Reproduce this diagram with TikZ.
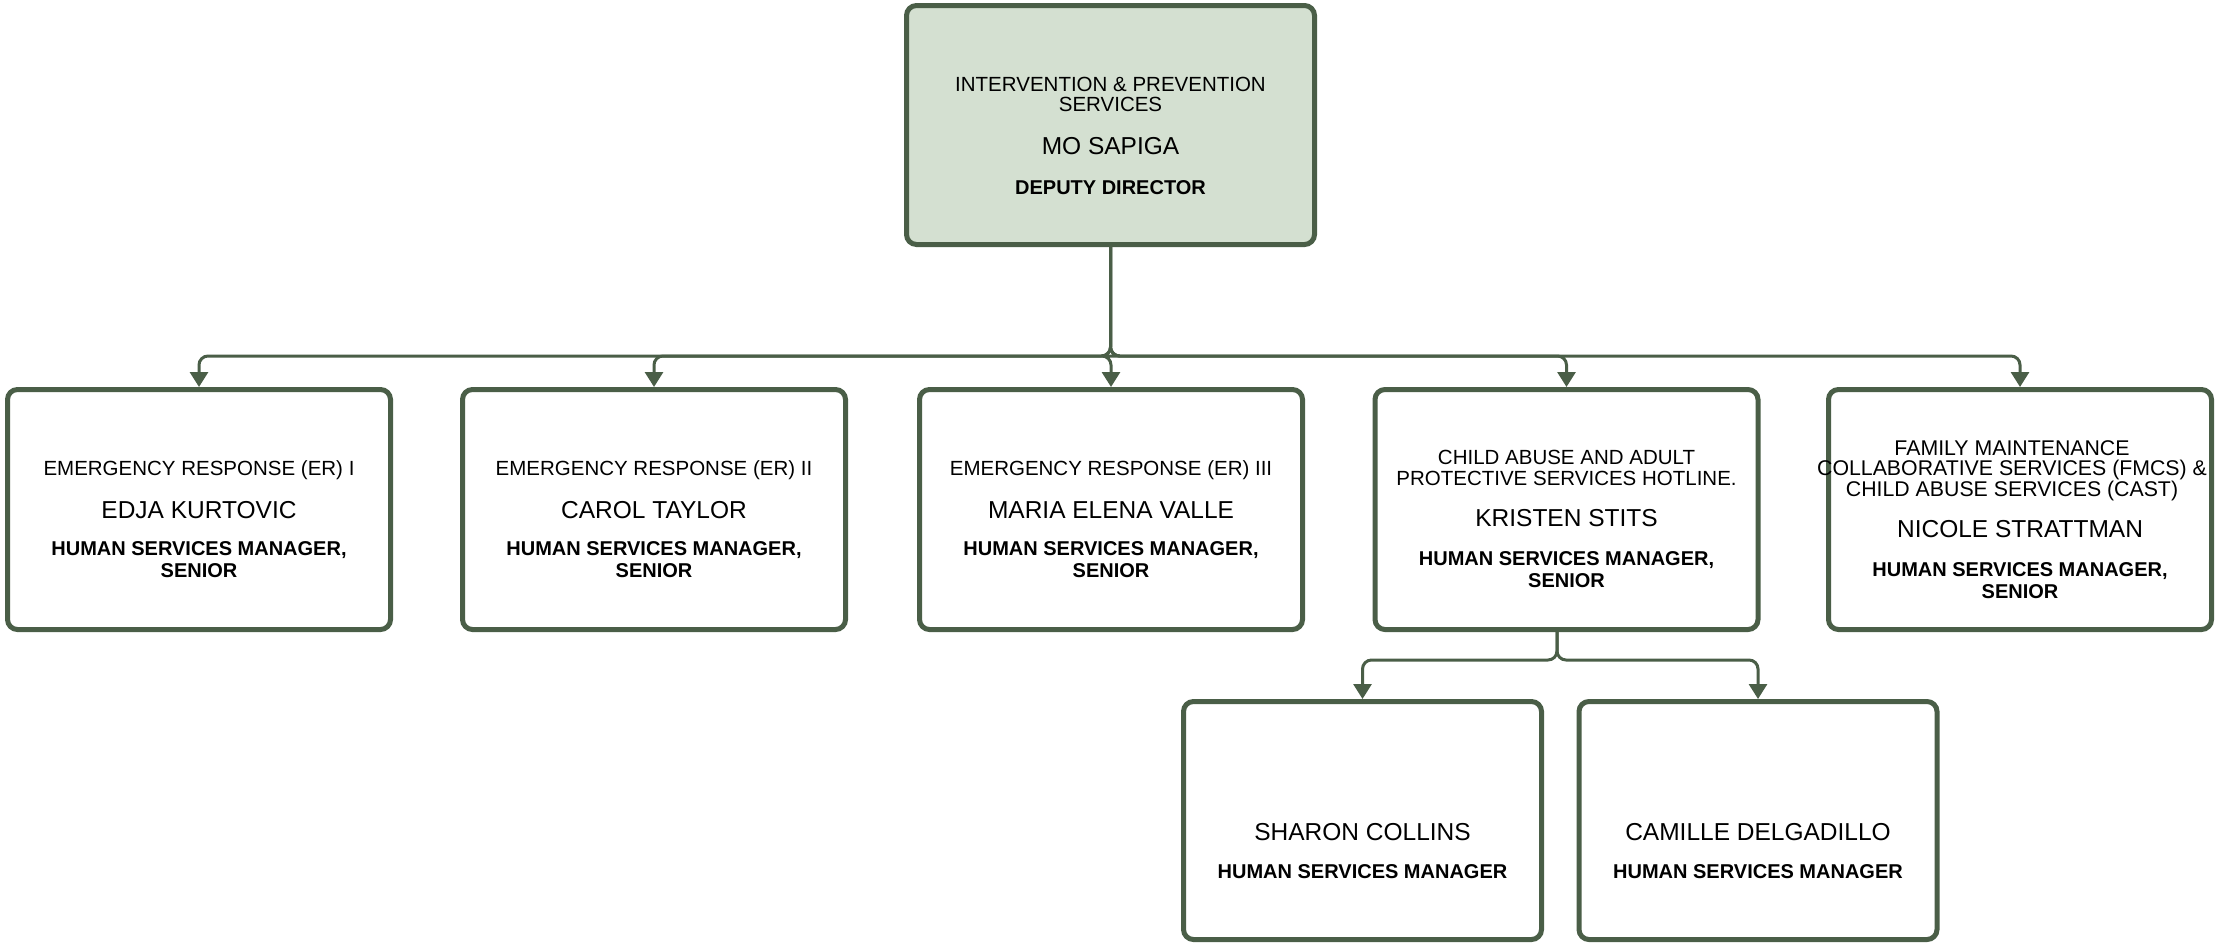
\documentclass[tikz,border=0pt]{standalone}
\usepackage{fontspec}
\setmainfont{Liberation Sans}
\usetikzlibrary{arrows.meta}
\definecolor{edgec}{HTML}{4A5E47}
\definecolor{topfill}{HTML}{D4E0D1}
\tikzset{
  box/.style={draw=edgec, line width=5pt, rounded corners=10pt, fill=white,
    minimum width=383pt, minimum height=240pt, inner sep=0pt},
  conn/.style={draw=edgec, line width=3pt, rounded corners=9pt,
    -{Triangle[width=18pt,length=15pt]}},
  ttl/.style={font=\fontsize{20.5}{20.3}\selectfont, align=center, anchor=base, inner sep=0pt},
  nm/.style={font=\fontsize{24.5}{26}\selectfont, anchor=base, inner sep=0pt},
  rl/.style={font=\bfseries\fontsize{20}{22}\selectfont, align=center, anchor=base, inner sep=0pt},
}
\begin{document}
\begin{tikzpicture}[x=1pt,y=-1pt]
\useasboundingbox (0,0) rectangle (2215,945);
% boxes
\node[box, fill=topfill, minimum width=408pt, minimum height=239pt] (top) at (1110.5,125) {};
\node[box] (er1) at (199,509.5) {};
\node[box] (er2) at (654,509.5) {};
\node[box] (er3) at (1111,509.5) {};
\node[box] (hot) at (1566.5,509.5) {};
\node[box] (fm) at (2020,509.5) {};
\node[box, minimum width=358pt, minimum height=238pt] (sc) at (1362.5,820.5) {};
\node[box, minimum width=358pt, minimum height=238pt] (cd) at (1758,820.5) {};
% texts (multi-line nodes are placed by the baseline of their last line)
\node[ttl] (topt) at (1110.5,111.7) {INTERVENTION \& PREVENTION\\SERVICES};
\node[nm] (topn) at (1110.5,154) {MO SAPIGA};
\node[rl] (topr) at (1110.5,194) {DEPUTY DIRECTOR};

\node[ttl] (er1t) at (199,475) {EMERGENCY RESPONSE (ER) I};
\node[nm] (er1n) at (199,518) {EDJA KURTOVIC};
\node[rl] (er1r) at (199,577) {HUMAN SERVICES MANAGER,\\SENIOR};

\node[ttl] (er2t) at (654,475) {EMERGENCY RESPONSE (ER) II};
\node[nm] (er2n) at (654,518) {CAROL TAYLOR};
\node[rl] (er2r) at (654,577) {HUMAN SERVICES MANAGER,\\SENIOR};

\node[ttl] (er3t) at (1111,475) {EMERGENCY RESPONSE (ER) III};
\node[nm] (er3n) at (1111,518) {MARIA ELENA VALLE};
\node[rl] (er3r) at (1111,577) {HUMAN SERVICES MANAGER,\\SENIOR};

\node[ttl] (hott) at (1566.5,485) {CHILD ABUSE AND ADULT\\PROTECTIVE SERVICES HOTLINE.};
\node[nm] (hotn) at (1566.5,526.7) {KRISTEN STITS};
\node[rl] (hotr) at (1566.5,587) {HUMAN SERVICES MANAGER,\\SENIOR};

\node[ttl, font=\fontsize{21.3}{20.5}\selectfont] (fmt) at (2012,496) {FAMILY MAINTENANCE\\COLLABORATIVE SERVICES (FMCS) \&\\CHILD ABUSE SERVICES (CAST)};
\node[nm] (fmn) at (2020,537.3) {NICOLE STRATTMAN};
\node[rl] (fmr) at (2020,598) {HUMAN SERVICES MANAGER,\\SENIOR};

\node[nm] (scn) at (1362.5,840) {SHARON COLLINS};
\node[rl] (scr) at (1362.5,878) {HUMAN SERVICES MANAGER};
\node[nm] (cdn) at (1758,840) {CAMILLE DELGADILLO};
\node[rl] (cdr) at (1758,878) {HUMAN SERVICES MANAGER};
% connectors
\coordinate (bus) at (0,356);
\foreach \c in {er1,er2,er3,hot,fm}
  \draw[conn] (top.south) -- (top.south |- bus) -| (\c.north);
\coordinate (bus2) at (1557,660);
\coordinate (hs) at (1557,632);
\draw[conn] (hs) -- (bus2) -| (sc.north);
\draw[conn] (hs) -- (bus2) -| (cd.north);
\end{tikzpicture}
\end{document}
